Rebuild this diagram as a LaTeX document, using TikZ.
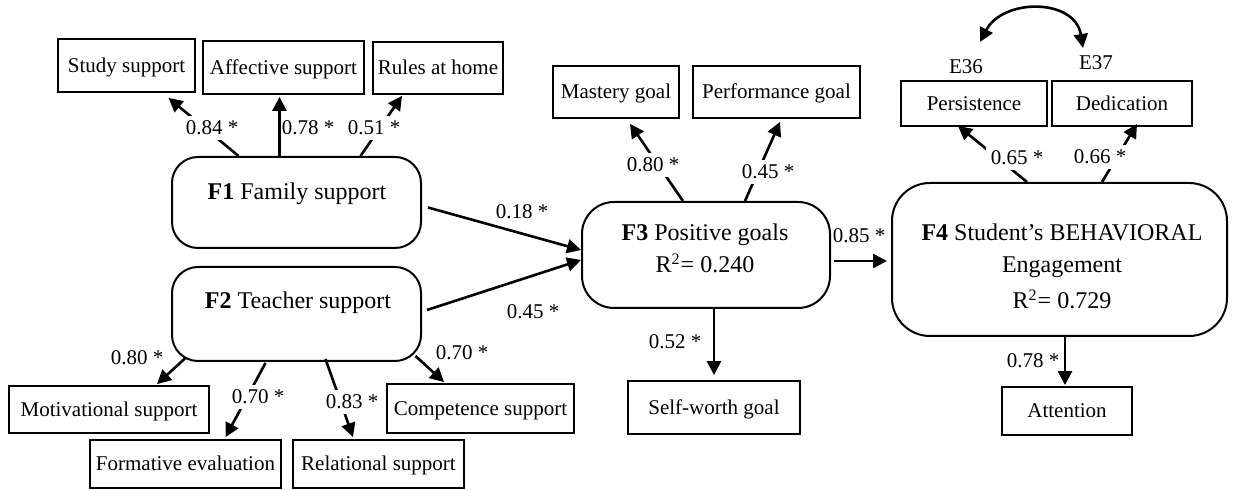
\documentclass[tikz,border=0pt]{standalone}
\usepackage{fontspec}
\setmainfont{Liberation Serif}
\usetikzlibrary{arrows.meta,calc}
\begin{document}
\begin{tikzpicture}[x=0.5pt,y=-0.5pt,
  obs/.style 2 args={draw,line width=0.9pt,minimum width=#1*0.5pt,minimum height=#2*0.5pt,
    inner sep=0pt,font=\fontsize{10.5}{12}\selectfont,text height=7pt,text depth=0pt},
  lat/.style n args={3}{draw,line width=1pt,rounded corners=#3,
    minimum width=#1*0.5pt,minimum height=#2*0.5pt,inner sep=0pt},
  ttl/.style={font=\fontsize{12}{14}\selectfont,inner sep=0pt,text height=8pt,text depth=0pt},
  loadarrow/.style={line width=1.3pt,-{Triangle[length=7pt,width=7pt]}},
  lbl/.style={font=\fontsize{10.5}{12}\selectfont,inner sep=1pt,text height=7pt,text depth=0pt},
  cut/.style={lbl,fill=white,inner sep=2.5pt},
]
\useasboundingbox (0,0) rectangle (1233,490);

% ---- indicators of F1
\node[obs={137}{53}] (study) at (126.5,65.5) {Study support};
\node[obs={161}{53}] (aff)   at (283.5,67.5) {Affective support};
\node[obs={130}{52}] (rules) at (438,68)     {Rules at home};

% ---- latent factors
\node[lat={249}{91}{13pt}] (f1) at (296.5,202.5) {};
\node[ttl] (f1t) at (297,192) {\textbf{F1} Family support};

\node[lat={249}{94}{13pt}] (f2) at (296.5,314) {};
\node[ttl] (f2t) at (298,301) {\textbf{F2} Teacher support};

\node[lat={248}{106}{16pt}] (f3) at (706,255) {};
\node[ttl] (f3t) at (705,233) {\textbf{F3} Positive goals};
\node[ttl] (f3r) at (705,265) {R\textsuperscript{2}= 0.240};

\node[lat={335}{153}{19pt}] (f4) at (1059.5,259.5) {};
\node[ttl] (f4t) at (1062,233) {\textbf{F4} Student’s BEHAVIORAL};
\node[ttl] (f4e) at (1062,265) {Engagement};
\node[ttl] (f4r) at (1062,301) {R\textsuperscript{2}= 0.729};

% ---- indicators of F2
\node[obs={200}{47}] (motiv) at (109,409.5)   {Motivational support};
\node[obs={191}{48}] (form)  at (185.5,464)   {Formative evaluation};
\node[obs={171}{48}] (rel)   at (378.5,464)   {Relational support};
\node[obs={187}{49}] (comp)  at (480.5,408.5) {Competence support};

% ---- indicators of F3
\node[obs={126}{52}] (mast)  at (616,92)    {Mastery goal};
\node[obs={167}{52}] (perf)  at (776.5,92)  {Performance goal};
\node[obs={172}{53}] (selfw) at (714,407.5) {Self-worth goal};

% ---- indicators of F4
\node[obs={146}{45}] (pers)  at (974,103.5)  {Persistence};
\node[obs={140}{45}] (dedic) at (1122,103.5) {Dedication};
\node[obs={130}{48}] (attn)  at (1067,411)   {Attention};
\node[lbl] (e36) at (966,67) {E36};
\node[lbl] (e37) at (1096,63) {E37};

% ---- loadings
\draw[loadarrow] ($(f1.north)+(-58,0)$) -- ($(study.south)+(42,5)$);
\draw[loadarrow] ($(f1.north)+(-17,0)$) -- ($(aff.south)+(-4,2)$);
\draw[loadarrow] ($(f1.north)+(64,0)$)  -- ($(rules.south)+(-36,1)$);

\draw[loadarrow] ($(f2.south)+(-111,-4)$) -- ($(motiv.north)+(48,-1)$);
\draw[loadarrow] ($(f2.south)+(-31,1)$)   -- ($(form.north)+(40,-2)$);
\draw[loadarrow] ($(f2.south)+(29,-3)$)   -- ($(rel.north)+(-25.5,-2)$);
\draw[loadarrow] ($(f2.south)+(119,-6)$)  -- ($(comp.north)+(-36.5,-1)$);

\draw[loadarrow] ($(f3.north)+(-23,0)$) -- ($(mast.south)+(14,5)$);
\draw[loadarrow] ($(f3.north)+(39,0)$)  -- ($(perf.south)+(3.5,3)$);
\draw[loadarrow] ($(f3.south)+(8,0)$)   -- ($(selfw.north)+(0,-5)$);

\draw[loadarrow] ($(f4.north)+(-32.5,0)$) -- ($(pers.south)+(-16,-1)$);
\draw[loadarrow] ($(f4.north)+(42.5,0)$)  -- ($(dedic.south)+(15,-3)$);
\draw[loadarrow] ($(f4.south)+(5.5,0)$)   -- ($(attn.north)+(-2,-1)$);

% ---- structural paths
\draw[loadarrow] ($(f1.east)+(6,5)$)  -- ($(f3.west)+(0,-5)$);
\draw[loadarrow] ($(f2.east)+(5,-4)$) -- ($(f3.west)+(0,5)$);
\draw[loadarrow] ($(f3.east)+(3,6)$)  -- ($(f4.west)+(-4,1.5)$);

% ---- correlated errors
\coordinate (c36) at (980,42);
\coordinate (c37) at (1083,48);
\draw[line width=1.3pt,{Triangle[length=7pt,width=7pt]}-{Triangle[length=7pt,width=7pt]}]
  (c36) .. controls (1003,-2) and (1075,-2) .. (c37);

% ---- coefficients
\node[cut] at (212,128) {0.84 *};
\node[lbl] at (308,128) {0.78 *};
\node[cut] at (374,128) {0.51 *};
\node[lbl] at (522,212) {0.18 *};
\node[lbl] at (533,312) {0.45 *};
\node[lbl] at (137,358) {0.80 *};
\node[cut] at (258,397) {0.70 *};
\node[cut] at (352,402) {0.83 *};
\node[lbl] at (462,353) {0.70 *};
\node[cut] at (653,165) {0.80 *};
\node[cut] at (768,172) {0.45 *};
\node[lbl] at (675,342) {0.52 *};
\node[lbl] at (859,236) {0.85 *};
\node[cut] at (1017,158) {0.65 *};
\node[cut] at (1100,157) {0.66 *};
\node[lbl] at (1033,361) {0.78 *};
\end{tikzpicture}
\end{document}
